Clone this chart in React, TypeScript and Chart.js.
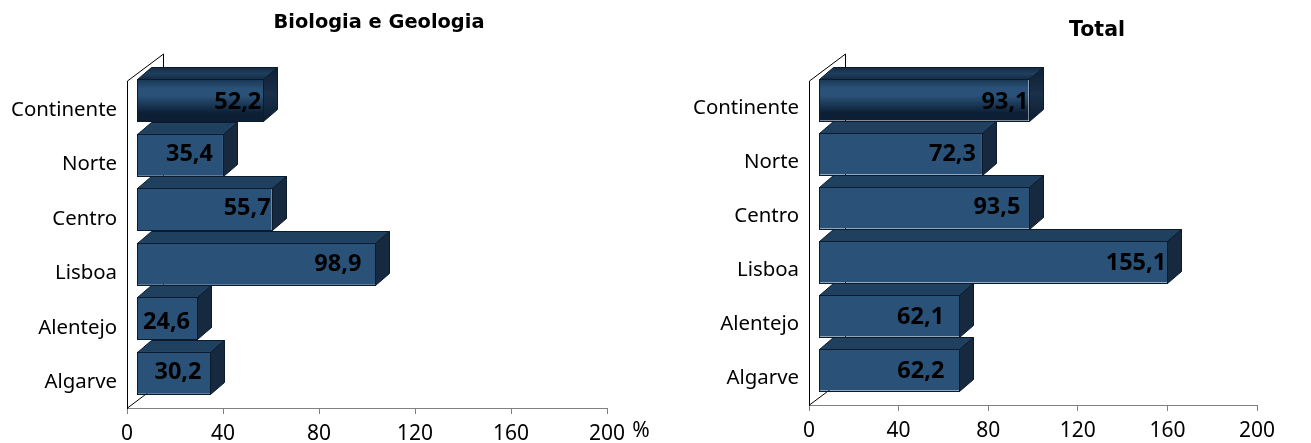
import React, { useEffect, useRef } from "react";
import { Chart, registerables } from "chart.js";

Chart.register(...registerables);

const categories = ["Continente", "Norte", "Centro", "Lisboa", "Alentejo", "Algarve"];
const biologiaValues = [52.2, 35.4, 55.7, 98.9, 24.6, 30.2];
const totalValues = [93.1, 72.3, 93.5, 155.1, 62.1, 62.2];
const axisMax = 200;
const axisStep = 40;

const FONT = "'Noto Sans', sans-serif";
const TITLE_FONT = "'DejaVu Sans', sans-serif";
const FRONT = "#2a5279";
const TOP = "#20405f";
const SIDE = "#16293f";
const EDGE = "#0b1a2c";
const DARK = "#0c1f35";

type Spec = {
  title: string;
  titleX: number;
  titleY: number;
  titleSize: number;
  values: number[];
  left: number;
  width: number;
  plotLeft: number;
  plotRight: number;
  plotBottom: number;
  barShiftX: number;
  baseValue: number;
  barPct: number;
  tickOffset: number;
  labelInset: number[];
  labelDy: number[];
  unit?: string;
};

const specs: Spec[] = [
  {
    title: "Biologia e Geologia",
    titleX: 379,
    titleY: 23,
    titleSize: 19.4,
    values: biologiaValues,
    left: 0,
    width: 655,
    plotLeft: 127,
    plotRight: 607,
    plotBottom: 408,
    barShiftX: 11,
    baseValue: -0.4,
    barPct: 0.77,
    tickOffset: 1.5,
    labelInset: [25.5, 33.5, 24.5, 37.5, 30.5, 32.5],
    labelDy: [2, 0, -1, 1, 4, 0],
    unit: "%",
  },
  {
    title: "Total",
    titleX: 1097 - 655,
    titleY: 31,
    titleSize: 20.5,
    values: totalValues,
    left: 655,
    width: 656,
    plotLeft: 809 - 655,
    plotRight: 1257 - 655,
    plotBottom: 405,
    barShiftX: 11,
    baseValue: -0.4,
    barPct: 0.76,
    tickOffset: 0,
    labelInset: [23.5, 29.5, 32.5, 31.5, 38.5, 38.5],
    labelDy: [2, 0, -1, 1, 1, 1],
  },
];

const PLOT_TOP = 81;
const SHIFT_Y = -8;
const DX = 14;
const DY = 12;
const WALL_DX = 36;
const WALL_DY = 27;

function poly(ctx: CanvasRenderingContext2D, pts: number[][], fill: any) {
  ctx.beginPath();
  pts.forEach((p, i) => (i ? ctx.lineTo(p[0], p[1]) : ctx.moveTo(p[0], p[1])));
  ctx.closePath();
  ctx.fillStyle = fill;
  ctx.fill();
  ctx.strokeStyle = EDGE;
  ctx.lineWidth = 1;
  ctx.stroke();
}

const snap = (v: number) => Math.round(v) + 0.5;

function makePlugin(spec: Spec) {
  return {
    id: "bar3d",
    afterLayout(chart: any) {
      const t = chart.titleBlock;
      if (t) {
        const cur = (t.left + t.right) / 2;
        const d = spec.titleX - cur;
        t.left += d;
        t.right += d;
      }
    },
    beforeDatasetsDraw(chart: any) {
      const ctx = chart.ctx as CanvasRenderingContext2D;
      const { left, top, bottom } = chart.chartArea;
      const x0 = Math.round(left) + 0.5;
      ctx.save();
      ctx.strokeStyle = "#000";
      ctx.lineWidth = 1;
      ctx.beginPath();
      ctx.moveTo(x0, top);
      ctx.lineTo(x0 + WALL_DX, top - WALL_DY);
      ctx.lineTo(x0 + WALL_DX, bottom - WALL_DY);
      ctx.lineTo(x0, bottom);
      ctx.stroke();
      ctx.restore();

      ctx.save();
      ctx.translate(spec.barShiftX, SHIFT_Y);
      const meta = chart.getDatasetMeta(0);
      for (let i = meta.data.length - 1; i >= 0; i--) {
        const el = meta.data[i];
        const xr = snap(el.x);
        const xl = snap(el.base);
        const yt = snap(el.y - el.height / 2);
        const yb = snap(el.y + el.height / 2);
        let sideFill: any = SIDE;
        let topFill: any = TOP;
        if (i === 0) {
          const g = ctx.createLinearGradient(0, yt - DY, 0, yb);
          g.addColorStop(0, "#0e2036");
          g.addColorStop(0.5, "#1a3049");
          g.addColorStop(1, "#0c1c2f");
          sideFill = g;
          const g2 = ctx.createLinearGradient(0, yt - DY, 0, yt);
          g2.addColorStop(0, "#142b44");
          g2.addColorStop(0.5, "#1f3f5e");
          g2.addColorStop(1, "#142b44");
          topFill = g2;
        }
        poly(ctx, [[xl, yt], [xl + DX, yt - DY], [xr + DX, yt - DY], [xr, yt]], topFill);
        poly(ctx, [[xr, yt], [xr + DX, yt - DY], [xr + DX, yb - DY], [xr, yb]], sideFill);
      }
    },
    afterDatasetsDraw(chart: any) {
      const ctx = chart.ctx as CanvasRenderingContext2D;
      const meta = chart.getDatasetMeta(0);
      ctx.strokeStyle = EDGE;
      ctx.lineWidth = 1;
      meta.data.forEach((el: any) => {
        const xr = snap(el.x);
        const xl = snap(el.base);
        const yt = snap(el.y - el.height / 2);
        const yb = snap(el.y + el.height / 2);
        ctx.strokeRect(xl, yt, xr - xl, yb - yt);
      });
      ctx.fillStyle = "#000";
      ctx.font = `bold 23.5px ${FONT}`;
      ctx.textAlign = "center";
      ctx.textBaseline = "middle";
      meta.data.forEach((el: any, i: number) => {
        const text = spec.values[i].toFixed(1).replace(".", ",");
        ctx.fillText(text, el.x - spec.labelInset[i], el.y + spec.labelDy[i]);
      });
      ctx.restore();
      if (spec.unit) {
        ctx.save();
        ctx.fillStyle = "#000";
        ctx.font = `21px ${FONT}`;
        ctx.textAlign = "center";
        ctx.textBaseline = "middle";
        ctx.fillText(spec.unit, 641, 431);
        ctx.restore();
      }
    },
  };
}

function Panel({ spec }: { spec: Spec }) {
  const ref = useRef<HTMLCanvasElement>(null);
  useEffect(() => {
    const titleLine = 22;
    const padTop = spec.titleY - titleLine / 2;
    const chart = new Chart(ref.current!, {
      type: "bar",
      data: {
        labels: categories,
        datasets: [
          {
            label: spec.title,
            data: spec.values,
            base: spec.baseValue,
            barPercentage: spec.barPct,
            categoryPercentage: 1,
            borderWidth: 0,
            borderSkipped: false,
            clip: false,
            backgroundColor: (c: any) => {
              if (c.dataIndex !== 0 || !c.chart.chartArea) return FRONT;
              const s = c.chart.scales.y;
              const mid = s.getPixelForValue(0) + SHIFT_Y;
              const g = c.chart.ctx.createLinearGradient(0, mid - 21, 0, mid + 21);
              g.addColorStop(0, DARK);
              g.addColorStop(0.42, FRONT);
              g.addColorStop(0.58, FRONT);
              g.addColorStop(1, DARK);
              return g;
            },
          } as any,
        ],
      },
      options: {
        indexAxis: "y",
        responsive: false,
        animation: false,
        layout: { padding: { left: 0, top: 0, bottom: 0, right: spec.width - spec.plotRight } },
        plugins: {
          legend: { display: false },
          tooltip: { enabled: false },
          title: {
            display: true,
            text: spec.title,
            color: "#000",
            font: { family: TITLE_FONT, size: spec.titleSize, weight: "bold", lineHeight: titleLine / spec.titleSize },
            padding: { top: padTop, bottom: PLOT_TOP - padTop - titleLine },
          },
        },
        scales: {
          x: {
            type: "linear",
            min: 0,
            max: axisMax,
            afterFit: (s: any) => {
              s.height = 443 - spec.plotBottom;
            },
            ticks: {
              stepSize: axisStep,
              color: "#000",
              font: { family: FONT, size: 21 },
              padding: 7,
              maxRotation: 0,
              autoSkip: false,
            },
            grid: { drawOnChartArea: false, drawTicks: true, tickLength: 6, tickColor: "#808080", tickWidth: 1 },
            border: { color: "#808080", width: 1 },
          },
          y: {
            type: "category",
            afterFit: (s: any) => {
              s.width = spec.plotLeft;
            },
            ticks: { color: "#000", font: { family: FONT, size: 20.4 }, padding: 10, labelOffset: spec.tickOffset, autoSkip: false },
            grid: { drawOnChartArea: false, drawTicks: false },
            border: { color: "#000", width: 1 },
          },
        },
      } as any,
      plugins: [makePlugin(spec)],
    });
    return () => chart.destroy();
  }, [spec]);
  return (
    <canvas
      ref={ref}
      width={spec.width}
      height={443}
      style={{ position: "absolute", left: spec.left, top: 0, width: spec.width, height: 443, display: "block" }}
    />
  );
}

export default function App() {
  return (
    <div style={{ position: "absolute", left: 0, top: 0, width: 1311, height: 443, background: "#fff", overflow: "hidden" }}>
      {specs.map((s) => (
        <Panel key={s.title} spec={s} />
      ))}
    </div>
  );
}
